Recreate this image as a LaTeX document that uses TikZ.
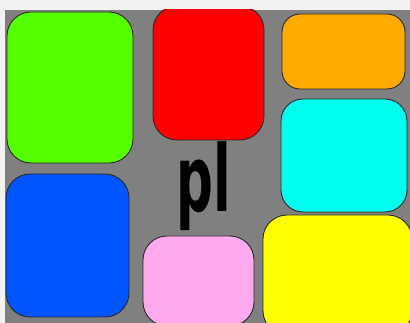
\documentclass[tikz,border=0pt]{standalone}
\usepackage{graphicx}
\usepackage{fontspec}
\newfontfamily\labelfont{DejaVu Sans}
\definecolor{pagebg}{HTML}{F2F2F2}
\definecolor{backgray}{HTML}{808080}
\definecolor{edgegray}{HTML}{2A2A2A}
\definecolor{tilegreen}{HTML}{55FF00}
\definecolor{tilered}{HTML}{FF0000}
\definecolor{tileorange}{HTML}{FFAA00}
\definecolor{tilecyan}{HTML}{00FFEE}
\definecolor{tileblue}{HTML}{0055FF}
\definecolor{tilepink}{HTML}{FFAAEE}
\definecolor{tileyellow}{HTML}{FFFF00}

\begin{document}
\begin{tikzpicture}[x=1pt, y=-1pt,
		tile/.style={draw=edgegray, line width=0.9pt, rounded corners=#1},
		tile/.default=24pt,
		every node/.style={inner sep=0pt}]
		\useasboundingbox (0,0) rectangle (410,323);
		\fill[pagebg] (0,0) rectangle (410,323);
		\fill[backgray] (5,10) rectangle (410,323);
		\begin{scope}
			\clip (5,10) rectangle (410,323);
			\draw[tile, fill=tilegreen] (7,12) rectangle (133,163);
			\draw[tile, fill=tileblue] (6,174) rectangle (129,317);
			\draw[tile, fill=tilered] (153,6) rectangle (264,140);
			\draw[tile=18pt, fill=tileorange] (282,14) rectangle (405,89);
			\draw[tile=22pt, fill=tilecyan] (281,99) rectangle (407,212);
			\draw[tile, fill=tilepink] (143,236) rectangle (254,326);
			\draw[tile, fill=tileyellow] (263,215) rectangle (412,335);
		\end{scope}
		\node[anchor=base] (word) at (204,212)
			{\scalebox{0.56}[1]{\labelfont\bfseries\fontsize{92}{92}\selectfont pl}};
	\end{tikzpicture}
\end{document}
